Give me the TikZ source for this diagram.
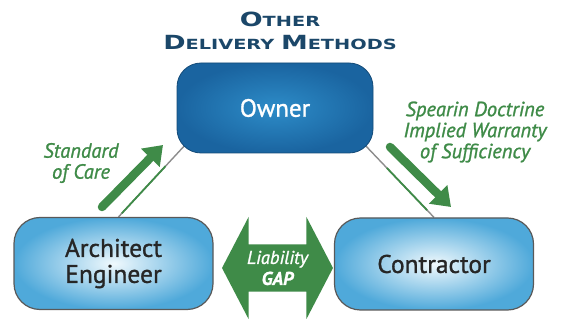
\documentclass[tikz,border=0pt]{standalone}
\usepackage{fontspec}
\setmainfont{PT Sans}
\newfontfamily\boxfont{PT Sans}[FakeBold=1.1]
\newfontfamily\dutyfont{PT Sans}[FakeBold=1.2]
\newfontfamily\titlefont{DejaVu Sans}
\usetikzlibrary{shapes.arrows, arrows.meta, calc, backgrounds}

\definecolor{ownerdark}{HTML}{1A64A0}
\definecolor{ownerlight}{HTML}{2D8CC8}
\definecolor{partyblue}{HTML}{4FA9DA}
\definecolor{partylight}{HTML}{F0F9FD}
\definecolor{liabgreen}{HTML}{3F8B48}
\definecolor{headblue}{HTML}{1B4769}
\definecolor{linkgray}{HTML}{8C8C8C}

% big first letter, smaller capitals after it
\newcommand{\capword}[2]{{\fontsize{19.5}{23}\selectfont #1}{\fontsize{14}{23}\selectfont #2}}

\tikzset{
  ownerbox/.style={rounded corners=24pt, draw=ownerdark!75!black, line width=0.8pt,
    inner color=ownerlight, outer color=ownerdark, minimum width=196pt, minimum height=90pt,
    text=white, font=\boxfont\fontsize{25}{28}\selectfont},
  partybox/.style={rounded corners=26pt, draw=gray!70!black, line width=1.2pt,
    inner color=partylight, outer color=partyblue, minimum width=199pt, minimum height=92pt,
    align=center, text=black!85, font=\boxfont\fontsize{25.5}{26}\selectfont},
  gaparrow/.style={double arrow, fill=liabgreen, double arrow head extend=20pt,
    double arrow tip angle=125, minimum height=111pt, minimum width=102pt, inner sep=0pt,
    text=white, align=center, font=\dutyfont\itshape\fontsize{18.5}{21}\selectfont},
  duty/.style={draw=liabgreen, line width=8.5pt, line cap=round, -{Triangle[width=25pt,length=18pt]}},
  dutytext/.style={text=liabgreen, align=center, font=\dutyfont\itshape\fontsize{20.5}{21}\selectfont},
  link/.style={draw=linkgray, line width=1.4pt},
  greenlink/.style={draw=liabgreen, line width=1.8pt},
}

\begin{document}
\begin{tikzpicture}[x=1pt, y=-1pt]
\useasboundingbox (0,0) rectangle (565,320);

\node[text=headblue, align=center, font=\titlefont\bfseries\fontsize{14}{23}\selectfont] (title) at (280,31)
  {\scalebox{1.38}[1]{\capword{O}{THER}}\\\scalebox{1.38}[1]{\capword{D}{ELIVERY} \capword{M}{ETHODS}}};

% the three parties
\node[ownerbox] (owner) at (275,108) {Owner};
\node[partybox] (arch) at (113.5,263.5) {Architect\\Engineer};
\node[partybox] (contr) at (434,264) {Contractor};

% links between owner and the others, kept under the boxes
\begin{scope}[on background layer]
  \draw[link] ([xshift=5pt]arch.north) -- ($(owner.south west)+(10,-10)$);
  \draw[greenlink, shorten <=5pt, shorten >=31pt] ([xshift=5pt]arch.north) -- ($(owner.south west)+(10,-10)$);
  \draw[link] ($(owner.south east)+(-10,-10)$) -- (contr.north);
  \draw[greenlink, shorten <=34pt, shorten >=10pt] ($(owner.south east)+(-10,-10)$) -- (contr.north);
\end{scope}

% duties
\coordinate (care tail) at (102,207);
\coordinate (care tip) at (163,145);
\coordinate (spearin tail) at (390,147);
\coordinate (spearin tip) at (451,207);
\draw[duty] (care tail) -- (care tip);
\draw[duty] (spearin tail) -- (spearin tip);

\node[dutytext] (care) at (81,163) {Standard\\of Care};
\node[dutytext] (spearin) at (475,132) {Spearin Doctrine\\Implied Warranty\\of Sufficiency};

\node[gaparrow] (gap) at (277.5,268) {Liability\\\textbf{GAP}};
\end{tikzpicture}
\end{document}
